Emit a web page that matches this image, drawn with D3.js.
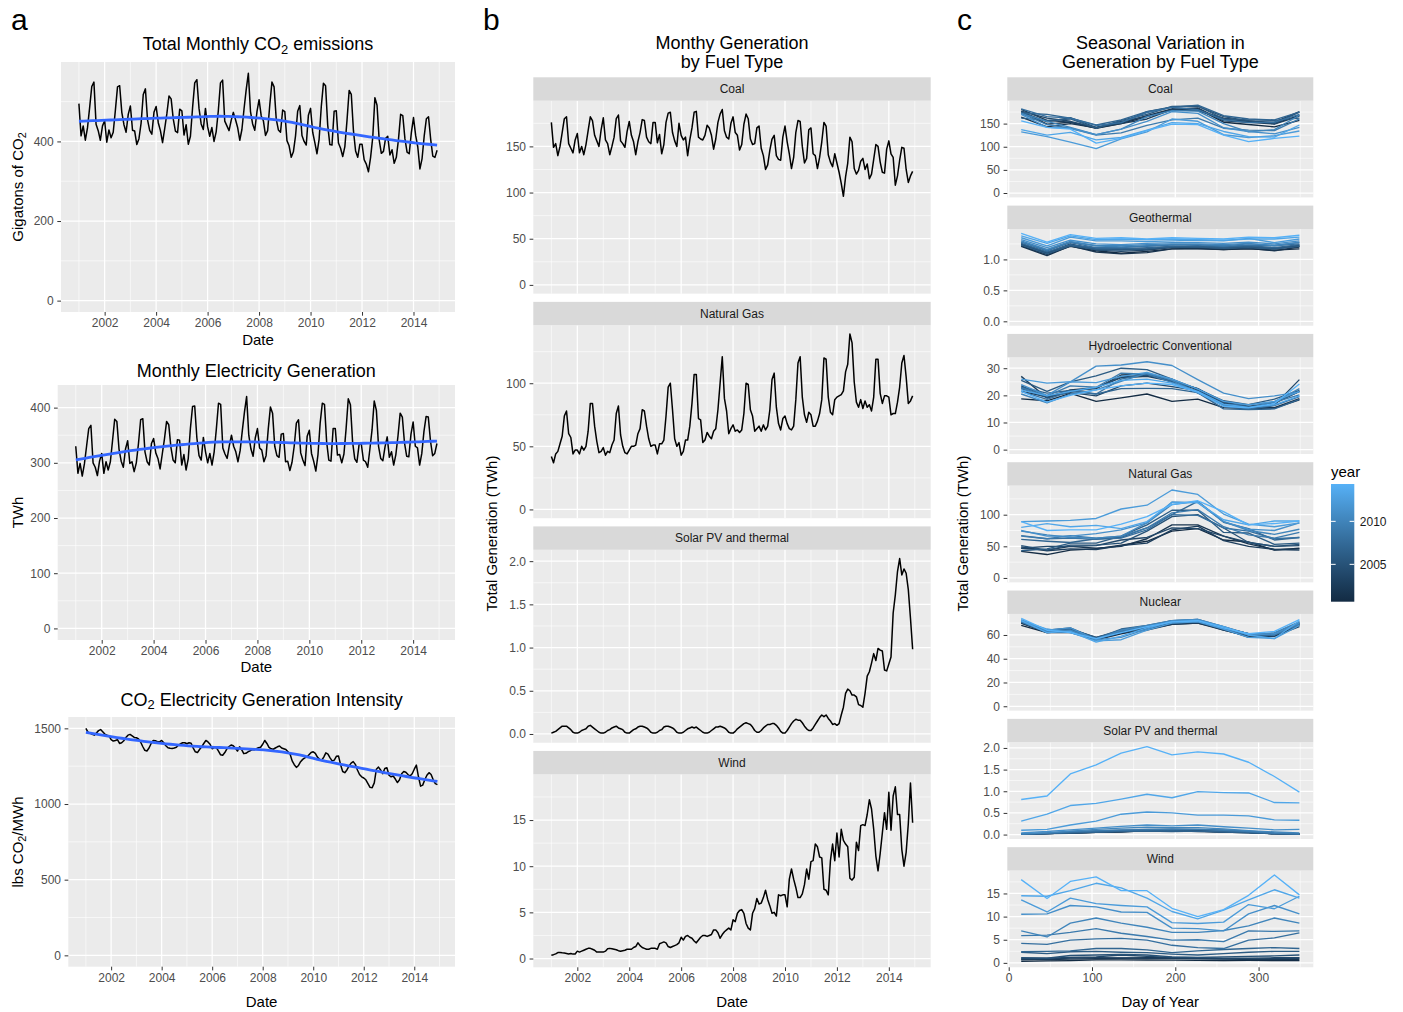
<!DOCTYPE html>
<html>
<head>
<meta charset="utf-8">
<script src="https://cdn.jsdelivr.net/npm/d3@7"></script>
<style>
  body { margin: 0; background: #fff; }
</style>
</head>
<body>
<svg id="fig" width="1403" height="1012"></svg>
<script>
// ---- data (monthly values, one row per year, Jan..Dec) ----
var years = [2001, 2002, 2003, 2004, 2005, 2006, 2007, 2008, 2009, 2010, 2011, 2012, 2013, 2014];
var dayOfYear = [15, 46, 74, 105, 135, 166, 196, 227, 258, 288, 319, 349];
var dateTicks = [2002, 2004, 2006, 2008, 2010, 2012, 2014];
var dayTicks = [0, 100, 200, 300];
var legendTicks = [2005, 2010];

var co2Ticks = [0, 200, 400];
var genTicks = [0, 100, 200, 300, 400];
var intensityTicks = [0, 500, 1000, 1500];
var coalTicks = [0, 50, 100, 150];
var geoTicks = [0, 0.5, 1];
var hydroTicks = [0, 10, 20, 30];
var gasTicks = [0, 50, 100];
var nuclearTicks = [0, 20, 40, 60];
var solarTicks = [0, 0.5, 1, 1.5, 2];
var windTicks = [0, 5, 10, 15];

var co2Total = [
  [495, 414, 439, 403, 434, 485, 538, 549, 443, 427, 403, 439],
  [452, 398, 429, 409, 423, 478, 537, 540, 473, 442, 423, 468],
  [489, 428, 426, 392, 407, 446, 518, 532, 454, 428, 418, 473],
  [488, 447, 427, 397, 432, 469, 514, 507, 456, 426, 422, 481],
  [477, 416, 442, 393, 413, 485, 547, 555, 483, 444, 430, 483],
  [437, 413, 435, 400, 424, 477, 547, 554, 451, 439, 427, 453],
  [473, 455, 435, 403, 430, 482, 530, 571, 475, 444, 428, 474],
  [505, 464, 452, 415, 427, 492, 549, 537, 456, 429, 423, 479],
  [475, 402, 389, 360, 374, 414, 476, 490, 415, 400, 391, 466],
  [483, 423, 397, 369, 406, 487, 546, 540, 441, 392, 391, 476],
  [477, 396, 383, 362, 387, 453, 528, 518, 427, 376, 360, 393],
  [393, 354, 343, 324, 360, 410, 510, 491, 404, 370, 375, 408],
  [413, 366, 379, 345, 360, 405, 468, 465, 407, 373, 369, 422],
  [460, 415, 386, 331, 357, 414, 457, 462, 406, 363, 360, 378]
];

var genTotal = [
  [330, 281, 299, 276, 298, 330, 362, 368, 300, 292, 277, 303],
  [317, 281, 302, 287, 302, 340, 379, 375, 325, 303, 292, 325],
  [340, 299, 302, 284, 300, 335, 378, 380, 320, 302, 296, 335],
  [344, 318, 308, 289, 316, 343, 375, 369, 328, 305, 300, 342],
  [341, 296, 315, 287, 307, 362, 402, 403, 345, 313, 305, 346],
  [320, 300, 317, 296, 320, 361, 408, 406, 327, 316, 308, 331],
  [350, 330, 320, 302, 322, 358, 392, 420, 350, 325, 312, 345],
  [362, 327, 323, 302, 313, 361, 401, 390, 330, 313, 310, 352],
  [353, 302, 303, 286, 301, 330, 372, 378, 318, 305, 295, 348],
  [359, 317, 303, 285, 315, 372, 408, 406, 338, 305, 303, 362],
  [362, 314, 315, 300, 316, 362, 416, 405, 338, 307, 301, 333],
  [335, 305, 302, 292, 325, 360, 412, 395, 330, 308, 304, 329],
  [347, 310, 320, 296, 315, 349, 390, 383, 336, 312, 311, 352],
  [374, 330, 327, 296, 317, 357, 384, 383, 340, 313, 317, 335]
];

var intensity = [
  [1500, 1475, 1468, 1460, 1455, 1470, 1485, 1492, 1478, 1462, 1455, 1450],
  [1425, 1416, 1420, 1425, 1400, 1405, 1418, 1440, 1455, 1460, 1450, 1440],
  [1438, 1430, 1410, 1380, 1355, 1350, 1370, 1400, 1420, 1418, 1412, 1411],
  [1420, 1405, 1385, 1372, 1368, 1367, 1370, 1375, 1390, 1398, 1405, 1405],
  [1398, 1405, 1402, 1370, 1345, 1340, 1360, 1378, 1400, 1420, 1410, 1395],
  [1365, 1375, 1372, 1350, 1325, 1322, 1340, 1365, 1380, 1390, 1385, 1370],
  [1350, 1378, 1360, 1333, 1335, 1345, 1352, 1360, 1358, 1365, 1372, 1375],
  [1395, 1420, 1400, 1375, 1365, 1362, 1370, 1378, 1383, 1370, 1365, 1360],
  [1345, 1330, 1285, 1260, 1242, 1255, 1280, 1295, 1305, 1310, 1325, 1340],
  [1345, 1335, 1310, 1295, 1288, 1310, 1338, 1330, 1305, 1285, 1290, 1315],
  [1318, 1260, 1215, 1207, 1225, 1250, 1270, 1280, 1262, 1225, 1195, 1180],
  [1172, 1160, 1135, 1110, 1108, 1140, 1230, 1244, 1225, 1200, 1235, 1240],
  [1190, 1180, 1185, 1165, 1142, 1160, 1200, 1215, 1210, 1195, 1185, 1200],
  [1230, 1257, 1180, 1118, 1125, 1160, 1190, 1207, 1195, 1160, 1135, 1128]
];

var coal = [
  [176, 149, 153, 140, 150, 165, 180, 182, 153, 148, 143, 157],
  [164, 143, 150, 141, 152, 167, 182, 178, 162, 156, 150, 168],
  [181, 157, 153, 141, 150, 160, 180, 184, 156, 153, 149, 166],
  [177, 162, 155, 141, 155, 165, 179, 178, 160, 155, 153, 176],
  [176, 154, 163, 142, 152, 176, 186, 187, 165, 156, 150, 175],
  [162, 157, 160, 140, 157, 170, 187, 188, 160, 158, 157, 162],
  [173, 170, 162, 147, 158, 176, 185, 190, 167, 160, 158, 175],
  [182, 165, 162, 146, 152, 174, 185, 180, 158, 152, 153, 170],
  [172, 148, 140, 125, 130, 146, 158, 162, 140, 136, 135, 160],
  [172, 155, 142, 126, 138, 165, 178, 177, 150, 132, 137, 168],
  [170, 142, 140, 126, 138, 155, 176, 172, 141, 133, 128, 142],
  [132, 122, 110, 96, 117, 132, 160, 155, 126, 120, 124, 134],
  [137, 125, 131, 115, 120, 136, 152, 150, 133, 122, 121, 147],
  [156, 142, 138, 108, 118, 135, 149, 148, 125, 111, 118, 123]
];

var geothermal = [
  [1.22, 1.08, 1.21, 1.14, 1.10, 1.13, 1.17, 1.18, 1.16, 1.17, 1.15, 1.17],
  [1.21, 1.06, 1.22, 1.12, 1.09, 1.11, 1.17, 1.17, 1.16, 1.18, 1.14, 1.20],
  [1.25, 1.10, 1.24, 1.17, 1.16, 1.16, 1.20, 1.21, 1.19, 1.20, 1.17, 1.22],
  [1.24, 1.10, 1.25, 1.15, 1.13, 1.15, 1.19, 1.19, 1.18, 1.20, 1.18, 1.21],
  [1.25, 1.11, 1.23, 1.18, 1.17, 1.17, 1.21, 1.20, 1.19, 1.21, 1.17, 1.23],
  [1.23, 1.09, 1.22, 1.16, 1.15, 1.17, 1.20, 1.20, 1.18, 1.19, 1.17, 1.21],
  [1.26, 1.12, 1.24, 1.18, 1.17, 1.19, 1.21, 1.22, 1.20, 1.22, 1.19, 1.24],
  [1.28, 1.14, 1.27, 1.19, 1.19, 1.21, 1.23, 1.24, 1.21, 1.23, 1.22, 1.25],
  [1.28, 1.15, 1.28, 1.22, 1.20, 1.22, 1.24, 1.24, 1.22, 1.25, 1.23, 1.27],
  [1.30, 1.16, 1.29, 1.22, 1.22, 1.24, 1.25, 1.25, 1.24, 1.26, 1.22, 1.28],
  [1.32, 1.19, 1.31, 1.25, 1.24, 1.26, 1.27, 1.27, 1.26, 1.28, 1.25, 1.30],
  [1.35, 1.22, 1.36, 1.30, 1.30, 1.29, 1.30, 1.31, 1.30, 1.34, 1.27, 1.33],
  [1.38, 1.26, 1.38, 1.32, 1.33, 1.32, 1.33, 1.32, 1.31, 1.33, 1.33, 1.36],
  [1.42, 1.28, 1.40, 1.34, 1.35, 1.33, 1.35, 1.34, 1.33, 1.36, 1.35, 1.39]
];

var hydro = [
  [18.7, 18.0, 20.7, 17.8, 19.1, 20.5, 17.8, 18.6, 15.5, 15.1, 15.3, 18.3],
  [21.5, 19.5, 21.8, 22.5, 27.5, 27.8, 25.4, 22.0, 16.5, 15.8, 15.5, 18.8],
  [27.0, 19.0, 22.0, 22.8, 26.5, 27.0, 25.2, 22.5, 17.0, 15.7, 17.3, 21.5],
  [23.5, 19.5, 21.0, 19.8, 23.5, 24.5, 23.2, 21.8, 17.2, 15.6, 16.4, 25.8],
  [22.5, 19.2, 21.5, 22.8, 26.8, 27.4, 25.2, 22.5, 17.5, 16.0, 17.0, 21.5],
  [25.5, 21.5, 25.0, 27.2, 30.0, 29.5, 26.0, 22.3, 18.0, 16.6, 18.6, 21.8],
  [23.0, 20.8, 21.8, 20.5, 22.5, 22.6, 22.5, 21.0, 15.0, 14.8, 15.0, 18.5],
  [21.5, 18.5, 21.5, 20.5, 26.0, 28.0, 26.0, 21.0, 16.0, 15.0, 16.2, 19.5],
  [22.8, 19.8, 23.5, 23.0, 28.2, 27.8, 24.8, 21.0, 16.5, 16.6, 17.5, 20.2],
  [20.5, 17.2, 20.5, 22.0, 25.2, 28.2, 25.5, 20.8, 16.5, 15.5, 17.6, 22.5],
  [24.0, 20.0, 25.0, 30.8, 31.2, 32.4, 31.0, 25.8, 20.8, 18.8, 19.8, 21.2],
  [26.0, 24.5, 25.0, 24.7, 27.0, 28.5, 26.0, 22.3, 17.8, 16.5, 17.8, 21.5],
  [22.0, 19.8, 21.5, 23.0, 25.5, 26.0, 24.5, 21.5, 16.8, 15.6, 16.5, 19.8],
  [21.5, 17.5, 20.0, 22.0, 23.5, 24.5, 24.0, 21.2, 16.0, 15.4, 17.0, 24.2]
];

var natGas = [
  [42, 37, 44, 46, 52, 58, 74, 78, 60, 57, 44, 47],
  [47, 44, 50, 47, 50, 62, 84, 84, 66, 54, 45, 46],
  [49, 43, 46, 45, 51, 55, 76, 82, 59, 50, 45, 44],
  [47, 50, 50, 51, 60, 64, 79, 78, 66, 56, 50, 51],
  [51, 44, 52, 52, 55, 74, 97, 100, 79, 56, 50, 53],
  [43, 46, 55, 55, 66, 84, 107, 107, 72, 71, 53, 55],
  [61, 58, 56, 62, 64, 79, 100, 121, 88, 78, 60, 64],
  [67, 62, 63, 61, 63, 76, 100, 99, 79, 74, 62, 64],
  [66, 62, 67, 63, 66, 79, 103, 108, 81, 68, 63, 72],
  [74, 68, 64, 63, 66, 87, 116, 121, 89, 75, 69, 77],
  [75, 66, 66, 70, 76, 87, 120, 119, 89, 77, 75, 87],
  [89, 90, 91, 94, 109, 115, 139, 132, 101, 85, 81, 87],
  [80, 86, 81, 83, 78, 89, 119, 119, 92, 84, 90, 90],
  [89, 75, 76, 76, 85, 97, 116, 122, 105, 84, 86, 90]
];

var nuclear = [
  [68, 62, 62, 56, 61, 65, 69, 70, 64, 59, 59, 68],
  [70, 62, 63, 57, 63, 67, 71, 71, 65, 60, 60, 69],
  [70, 63, 64, 56, 62, 64, 69, 70, 65, 58, 59, 67],
  [72, 64, 65, 58, 63, 66, 70, 71, 64, 59, 61, 70],
  [71, 63, 63, 56, 62, 66, 70, 71, 66, 61, 60, 69],
  [71, 63, 65, 58, 64, 67, 71, 72, 66, 61, 60, 70],
  [72, 64, 66, 57, 65, 68, 72, 73, 67, 61, 61, 71],
  [72, 64, 64, 57, 64, 67, 71, 72, 65, 60, 60, 70],
  [71, 62, 63, 57, 63, 67, 72, 72, 66, 61, 60, 69],
  [72, 63, 64, 56, 64, 68, 72, 73, 66, 60, 62, 71],
  [73, 64, 66, 56, 58, 65, 72, 73, 67, 60, 61, 70],
  [72, 65, 62, 55, 56, 64, 70, 71, 65, 58, 57, 68],
  [72, 62, 63, 54, 59, 66, 71, 72, 67, 60, 57, 72],
  [74, 64, 62, 57, 62, 67, 71, 72, 66, 61, 63, 73]
];

var solar = [
  [0.01, 0.02, 0.03, 0.05, 0.07, 0.09, 0.09, 0.09, 0.07, 0.05, 0.02, 0.01],
  [0.01, 0.02, 0.04, 0.05, 0.06, 0.09, 0.10, 0.08, 0.06, 0.04, 0.02, 0.01],
  [0.01, 0.02, 0.04, 0.05, 0.07, 0.08, 0.09, 0.07, 0.06, 0.05, 0.02, 0.01],
  [0.01, 0.03, 0.05, 0.06, 0.08, 0.09, 0.09, 0.08, 0.07, 0.05, 0.02, 0.01],
  [0.01, 0.02, 0.04, 0.05, 0.08, 0.09, 0.09, 0.08, 0.07, 0.05, 0.02, 0.01],
  [0.01, 0.02, 0.04, 0.06, 0.07, 0.08, 0.07, 0.08, 0.06, 0.04, 0.02, 0.01],
  [0.01, 0.02, 0.04, 0.06, 0.08, 0.08, 0.09, 0.08, 0.07, 0.05, 0.02, 0.01],
  [0.01, 0.03, 0.06, 0.08, 0.10, 0.12, 0.13, 0.12, 0.11, 0.08, 0.04, 0.02],
  [0.02, 0.04, 0.07, 0.09, 0.11, 0.11, 0.12, 0.12, 0.10, 0.07, 0.03, 0.01],
  [0.01, 0.04, 0.08, 0.12, 0.15, 0.17, 0.16, 0.16, 0.13, 0.09, 0.06, 0.04],
  [0.04, 0.07, 0.11, 0.15, 0.19, 0.22, 0.20, 0.22, 0.18, 0.15, 0.11, 0.12],
  [0.10, 0.12, 0.22, 0.31, 0.47, 0.52, 0.50, 0.45, 0.45, 0.43, 0.34, 0.33],
  [0.31, 0.47, 0.67, 0.72, 0.82, 0.93, 0.85, 0.99, 0.97, 0.96, 0.74, 0.73],
  [0.81, 0.89, 1.40, 1.61, 1.88, 2.03, 1.84, 1.91, 1.86, 1.67, 1.34, 0.98]
];

var wind = [
  [0.36, 0.42, 0.50, 0.65, 0.65, 0.62, 0.60, 0.55, 0.50, 0.55, 0.48, 0.50],
  [0.80, 0.70, 0.80, 0.90, 1.00, 1.10, 1.10, 1.00, 0.90, 0.70, 0.70, 0.70],
  [0.70, 0.80, 1.05, 1.10, 1.05, 1.00, 0.95, 0.85, 0.80, 0.85, 0.90, 1.00],
  [1.00, 1.00, 1.20, 1.30, 1.70, 1.40, 1.20, 1.10, 1.00, 1.00, 1.10, 1.10],
  [1.10, 1.00, 1.60, 1.70, 1.80, 1.70, 1.30, 1.20, 1.30, 1.40, 1.50, 1.70],
  [2.30, 2.00, 2.40, 2.50, 2.30, 2.20, 1.90, 1.70, 2.00, 2.30, 2.50, 2.50],
  [2.40, 2.50, 2.60, 3.10, 3.10, 2.80, 2.20, 2.60, 2.90, 3.10, 3.30, 3.10],
  [4.20, 4.00, 4.90, 5.20, 5.30, 4.90, 3.80, 3.30, 3.10, 4.90, 5.40, 6.50],
  [5.90, 6.00, 6.60, 7.40, 6.40, 5.70, 4.90, 5.00, 4.60, 6.90, 6.80, 6.90],
  [6.90, 5.60, 8.60, 9.70, 8.60, 7.70, 6.60, 6.60, 7.00, 8.00, 9.70, 8.60],
  [10.5, 10.6, 12.4, 12.1, 11.0, 10.9, 7.50, 7.40, 6.90, 10.6, 12.4, 10.6],
  [13.6, 11.0, 14.0, 12.8, 12.4, 12.1, 8.70, 8.50, 8.80, 12.6, 11.7, 14.4],
  [14.5, 14.4, 15.6, 17.2, 16.2, 14.0, 11.1, 9.50, 11.4, 13.6, 15.8, 14.0],
  [18.0, 13.9, 17.6, 18.6, 15.6, 15.6, 11.8, 10.0, 11.5, 14.6, 19.0, 14.7]
];

var monthlyFacets = [
  { name: 'Coal', rows: coal, ticks: coalTicks },
  { name: 'Natural Gas', rows: natGas, ticks: gasTicks },
  { name: 'Solar PV and thermal', rows: solar, ticks: solarTicks },
  { name: 'Wind', rows: wind, ticks: windTicks }
];
var seasonalFacets = [
  { name: 'Coal', rows: coal, ticks: coalTicks },
  { name: 'Geothermal', rows: geothermal, ticks: geoTicks },
  { name: 'Hydroelectric Conventional', rows: hydro, ticks: hydroTicks },
  { name: 'Natural Gas', rows: natGas, ticks: gasTicks },
  { name: 'Nuclear', rows: nuclear, ticks: nuclearTicks },
  { name: 'Solar PV and thermal', rows: solar, ticks: solarTicks },
  { name: 'Wind', rows: wind, ticks: windTicks }
];

// ---- helpers ----
var FONT = '"Liberation Sans", Arial, Helvetica, sans-serif';
var svg = d3.select('#fig');
svg.append('rect').attr('width', 1403).attr('height', 1012).attr('fill', '#fff');

var yearColor = d3.scaleLinear()
  .domain([years[0], years[years.length - 1]])
  .range(['#132B43', '#56B1F7'])
  .interpolate(d3.interpolateLab);

function expand(lo, hi) {
  var d = (hi - lo) * 0.05;
  return [lo - d, hi + d];
}

function minorBreaks(major, domain) {
  var step = major[1] - major[0],
      ext = [major[0] - step].concat(major, [major[major.length - 1] + step]),
      out = [];
  for (var i = 0; i < ext.length - 1; i++) {
    var m = (ext[i] + ext[i + 1]) / 2;
    if (m > domain[0] && m < domain[1]) out.push(m);
  }
  return out;
}

function monthly(rows) {
  var pts = [];
  rows.forEach(function (row, i) {
    row.forEach(function (v, m) {
      pts.push({ t: years[i] + m / 12, v: v });
    });
  });
  return pts;
}

// plain loess (span .75, degree 2, tricube), as geom_smooth does it
function loess(xs, ys, span, at) {
  var n = xs.length, q = Math.floor(span * n);
  function det3(a, b, c, d, e, f, g, h, i) {
    return a * (e * i - f * h) - b * (d * i - f * g) + c * (d * h - e * g);
  }
  return at.map(function (x0) {
    var dist = xs.map(function (x) { return Math.abs(x - x0); }),
        h = dist.slice().sort(d3.ascending)[q - 1],
        s = [0, 0, 0, 0, 0], t = [0, 0, 0];
    for (var i = 0; i < n; i++) {
      var u = dist[i] / h;
      if (u >= 1) continue;
      var w = Math.pow(1 - u * u * u, 3), dx = xs[i] - x0, p = 1;
      for (var k = 0; k < 5; k++) {
        s[k] += w * p;
        if (k < 3) t[k] += w * p * ys[i];
        p *= dx;
      }
    }
    var D = det3(s[0], s[1], s[2], s[1], s[2], s[3], s[2], s[3], s[4]);
    return det3(t[0], s[1], s[2], t[1], s[2], s[3], t[2], s[3], s[4]) / D;
  });
}

function text(x, y, parts, size, opts) {
  opts = opts || {};
  var t = svg.append('text')
    .attr('x', x).attr('y', y)
    .attr('font-family', FONT)
    .attr('font-size', size)
    .attr('text-anchor', opts.anchor || 'middle')
    .attr('fill', opts.fill || '#000');
  if (opts.rotate) t.attr('transform', 'rotate(-90,' + x + ',' + y + ')');
  var shift = size * 0.22, down = false;
  [].concat(parts).forEach(function (p) {
    var s;
    if (typeof p === 'string') {
      s = t.append('tspan').text(p);
      if (down) { s.attr('dy', -shift); down = false; }
    } else {
      s = t.append('tspan').attr('font-size', size * 0.72).attr('dy', shift).text(p.sub);
      down = true;
    }
  });
  return t;
}

function styleAxis(ax) {
  ax.select('.domain').remove();
  ax.attr('font-family', FONT).attr('font-size', 12);
  ax.selectAll('line').attr('stroke', '#333333').attr('stroke-width', 1);
  ax.selectAll('text').attr('fill', '#4D4D4D');
}

function fmtFor(ticks) {
  return ticks.some(function (v) { return v % 1 !== 0; }) ? d3.format('.1f') : d3.format('d');
}

function panel(box, x, y, xMajor, yMajor) {
  var g = svg.append('g').attr('transform', 'translate(' + box.left + ',' + box.top + ')');
  g.append('rect').attr('width', box.w).attr('height', box.h).attr('fill', '#EBEBEB');

  var grid = g.append('g').attr('stroke', '#fff').attr('fill', 'none');
  minorBreaks(yMajor, y.domain()).forEach(function (v) {
    grid.append('line').attr('x1', 0).attr('x2', box.w).attr('y1', y(v)).attr('y2', y(v)).attr('stroke-width', 0.6);
  });
  minorBreaks(xMajor, x.domain()).forEach(function (v) {
    grid.append('line').attr('y1', 0).attr('y2', box.h).attr('x1', x(v)).attr('x2', x(v)).attr('stroke-width', 0.6);
  });
  yMajor.forEach(function (v) {
    grid.append('line').attr('x1', 0).attr('x2', box.w).attr('y1', y(v)).attr('y2', y(v)).attr('stroke-width', 1.25);
  });
  xMajor.forEach(function (v) {
    grid.append('line').attr('y1', 0).attr('y2', box.h).attr('x1', x(v)).attr('x2', x(v)).attr('stroke-width', 1.25);
  });

  styleAxis(g.append('g').call(
    d3.axisLeft(y).tickValues(yMajor).tickSize(3.7).tickPadding(3.6).tickFormat(fmtFor(yMajor))
  ));
  return g;
}

function bottomAxis(g, box, x, ticks) {
  styleAxis(g.append('g')
    .attr('transform', 'translate(0,' + box.h + ')')
    .call(d3.axisBottom(x).tickValues(ticks).tickSize(3.7).tickPadding(2.8).tickFormat(d3.format('d'))));
}

function strip(box, name) {
  svg.append('rect').attr('x', box.left).attr('y', box.top - 23.4)
    .attr('width', box.w).attr('height', 23.4).attr('fill', '#D9D9D9');
  text(box.left + box.w / 2, box.top - 23.4 / 2 + 4.2, name, 12, { fill: '#1A1A1A' });
}

var timeDomain = expand(years[0], years[years.length - 1] + 11 / 12);
var dayDomain = expand(dayOfYear[0], dayOfYear[dayOfYear.length - 1]);

function blackLine(g, pts, x, y) {
  g.append('path').datum(pts)
    .attr('d', d3.line().x(function (d) { return x(d.t); }).y(function (d) { return y(d.v); }))
    .attr('fill', 'none').attr('stroke', '#000').attr('stroke-width', 1.5)
    .attr('stroke-linejoin', 'round');
}

// ---- panel a ----
function seriesPanel(box, rows, yTicks) {
  var pts = monthly(rows);
  var x = d3.scaleLinear().domain(timeDomain).range([0, box.w]);
  var y = d3.scaleLinear().domain(expand(0, d3.max(pts, function (d) { return d.v; }))).range([box.h, 0]);
  var g = panel(box, x, y, dateTicks, yTicks);
  blackLine(g, pts, x, y);

  var ts = pts.map(function (d) { return d.t; }),
      at = d3.range(80).map(function (i) { return ts[0] + (ts[ts.length - 1] - ts[0]) * i / 79; }),
      fit = loess(ts, pts.map(function (d) { return d.v; }), 0.75, at);
  g.append('path').datum(at)
    .attr('d', d3.line().x(function (d) { return x(d); }).y(function (d, i) { return y(fit[i]); }))
    .attr('fill', 'none').attr('stroke', '#3366FF').attr('stroke-width', 2.8);

  bottomAxis(g, box, x, dateTicks);
  return g;
}

var boxA1 = { left: 61, top: 62, w: 394, h: 250 };
var boxA2 = { left: 57.7, top: 385, w: 397.3, h: 255 };
var boxA3 = { left: 68.3, top: 717, w: 386.7, h: 249.7 };

seriesPanel(boxA1, co2Total, co2Ticks);
seriesPanel(boxA2, genTotal, genTicks);
seriesPanel(boxA3, intensity, intensityTicks);

text(258, 50, ['Total Monthly CO', { sub: '2' }, ' emissions'], 18);
text(256.3, 376.5, 'Monthly Electricity Generation', 18);
text(261.6, 705.5, ['CO', { sub: '2' }, ' Electricity Generation Intensity'], 18);

text(258, 344.5, 'Date', 15);
text(256.3, 671.5, 'Date', 15);
text(261.6, 1006.5, 'Date', 15);

text(22.5, 187, ['Gigatons of CO', { sub: '2' }], 15, { rotate: true });
text(22.5, 512.5, 'TWh', 15, { rotate: true });
text(22.5, 842, ['lbs CO', { sub: '2' }, '/MWh'], 15, { rotate: true });

// ---- panel b ----
var bLeft = 533.3, bWidth = 397.4, bPitch = 224.55, bHeight = 192.95;
monthlyFacets.forEach(function (f, i) {
  var box = { left: bLeft, top: 77.3 + 23.4 + i * bPitch, w: bWidth, h: bHeight };
  var pts = monthly(f.rows);
  var x = d3.scaleLinear().domain(timeDomain).range([0, box.w]);
  var y = d3.scaleLinear().domain(expand(0, d3.max(pts, function (d) { return d.v; }))).range([box.h, 0]);
  var g = panel(box, x, y, dateTicks, f.ticks);
  strip(box, f.name);
  blackLine(g, pts, x, y);
  if (i === monthlyFacets.length - 1) bottomAxis(g, box, x, dateTicks);
});

text(732, 49.3, 'Monthy Generation', 18);
text(732, 67.8, 'by Fuel Type', 18);
text(732, 1006.5, 'Date', 15);
text(496.5, 533.5, 'Total Generation (TWh)', 15, { rotate: true });

// ---- panel c ----
var cLeft = 1007.3, cWidth = 306, cPitch = 128.31, cHeight = 96.71;
seasonalFacets.forEach(function (f, i) {
  var box = { left: cLeft, top: 77.3 + 23.4 + i * cPitch, w: cWidth, h: cHeight };
  var x = d3.scaleLinear().domain(dayDomain).range([0, box.w]);
  var y = d3.scaleLinear().domain(expand(0, d3.max(f.rows, function (r) { return d3.max(r); }))).range([box.h, 0]);
  var g = panel(box, x, y, dayTicks, f.ticks);
  strip(box, f.name);
  var line = d3.line().x(function (d, m) { return x(dayOfYear[m]); }).y(function (d) { return y(d); });
  f.rows.forEach(function (row, k) {
    g.append('path').datum(row)
      .attr('d', line)
      .attr('fill', 'none')
      .attr('stroke', yearColor(years[k]))
      .attr('stroke-width', 1.35)
      .attr('stroke-linejoin', 'round');
  });
  if (i === seasonalFacets.length - 1) bottomAxis(g, box, x, dayTicks);
});

text(1160.3, 49.3, 'Seasonal Variation in', 18);
text(1160.3, 67.8, 'Generation by Fuel Type', 18);
text(1160.3, 1006.5, 'Day of Year', 15);
text(968, 533.5, 'Total Generation (TWh)', 15, { rotate: true });

// ---- colourbar legend ----
var barX = 1331, barY = 484, barW = 23.3, barH = 117.7;
var grad = svg.append('defs').append('linearGradient')
  .attr('id', 'yearGrad').attr('x1', 0).attr('y1', 1).attr('x2', 0).attr('y2', 0);
d3.range(11).forEach(function (i) {
  var yr = years[0] + (years[years.length - 1] - years[0]) * i / 10;
  grad.append('stop').attr('offset', i / 10).attr('stop-color', yearColor(yr));
});
svg.append('rect').attr('x', barX).attr('y', barY).attr('width', barW).attr('height', barH)
  .attr('fill', 'url(#yearGrad)');
var half = barH / 20 / 2;
var yLegend = d3.scaleLinear()
  .domain([years[0], years[years.length - 1]])
  .range([barY + barH - half, barY + half]);
legendTicks.forEach(function (yr) {
  var yy = yLegend(yr);
  svg.append('line').attr('x1', barX).attr('x2', barX + barW / 5).attr('y1', yy).attr('y2', yy)
    .attr('stroke', '#fff').attr('stroke-width', 1);
  svg.append('line').attr('x1', barX + barW * 4 / 5).attr('x2', barX + barW).attr('y1', yy).attr('y2', yy)
    .attr('stroke', '#fff').attr('stroke-width', 1);
  text(barX + barW + 5.5, yy + 4.3, String(yr), 12, { anchor: 'start', fill: '#1A1A1A' });
});
text(1331, 476.5, 'year', 15, { anchor: 'start' });

// ---- panel tags ----
text(11, 29.5, 'a', 30, { anchor: 'start' });
text(483, 29.5, 'b', 30, { anchor: 'start' });
text(957, 29.5, 'c', 30, { anchor: 'start' });
</script>
</body>
</html>
